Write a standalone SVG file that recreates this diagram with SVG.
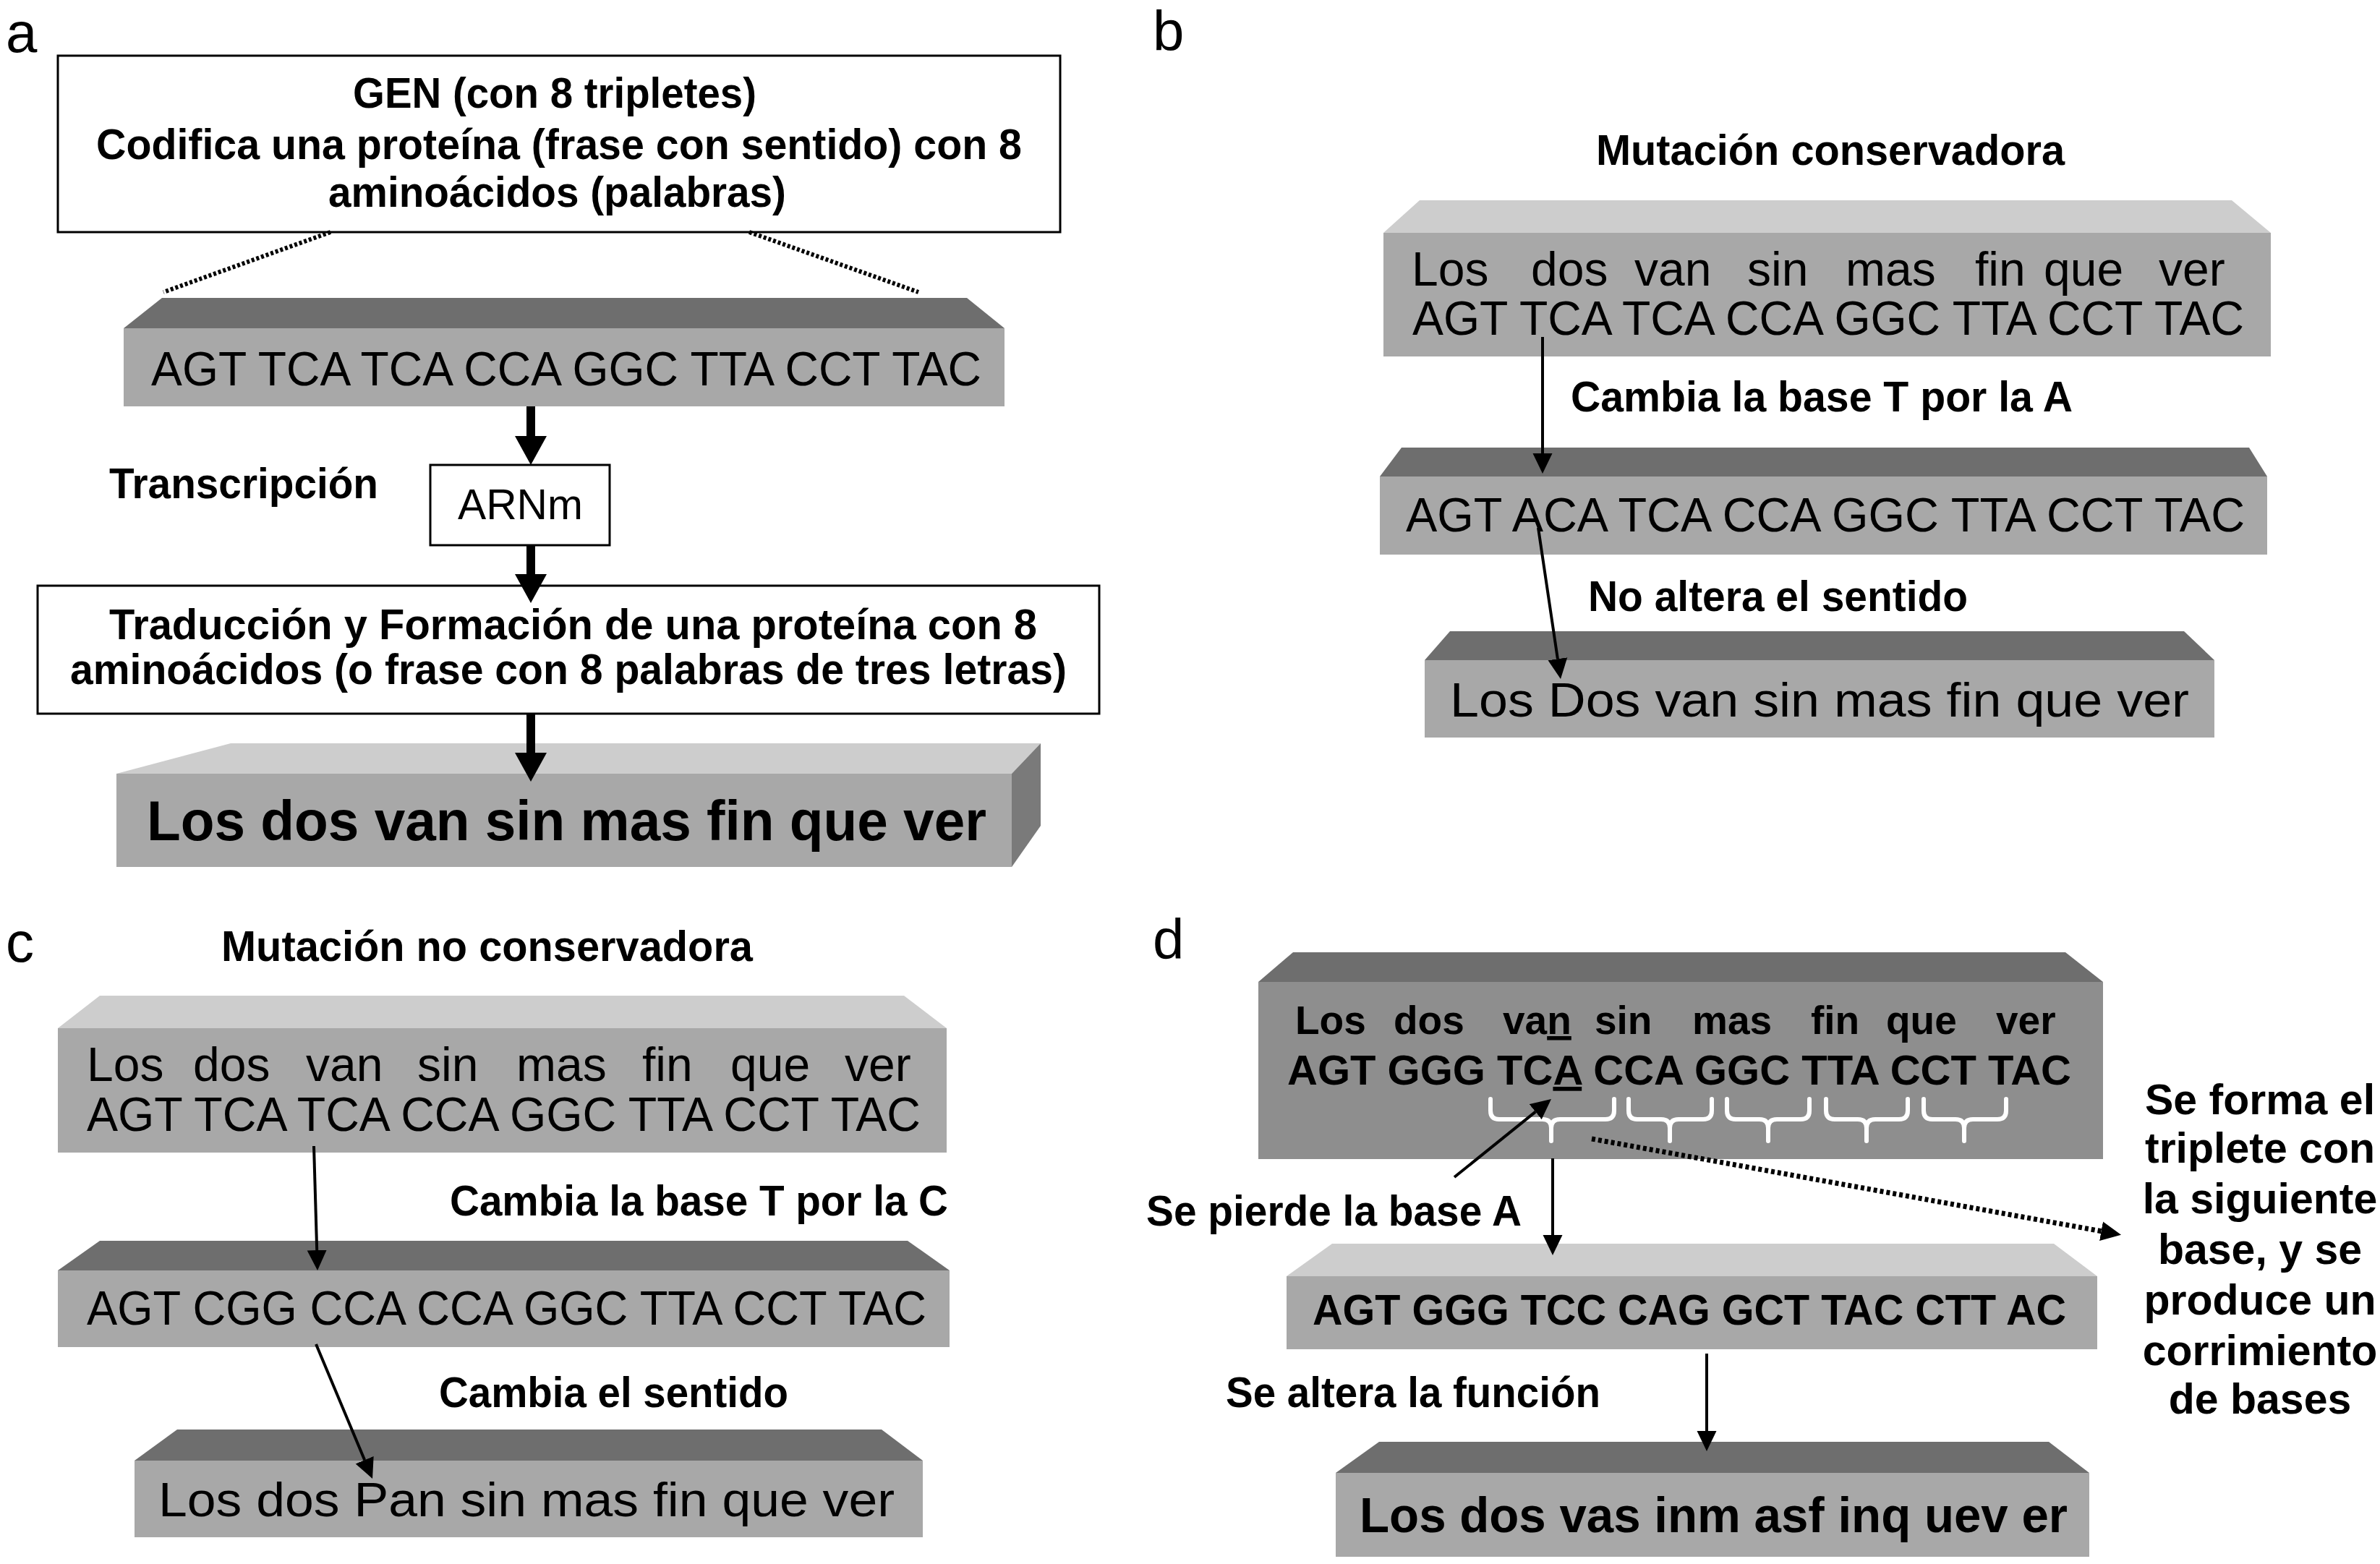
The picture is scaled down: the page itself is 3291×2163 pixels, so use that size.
<svg xmlns="http://www.w3.org/2000/svg" width="3291" height="2163" viewBox="0 0 3291 2163">
<style>
.lbl{font-family:"Liberation Sans",Arial,sans-serif;font-weight:bold;font-size:59px;fill:#000}
.seq{font-family:"Liberation Sans",Arial,sans-serif;font-size:66px;fill:#000}
.seqb{font-family:"Liberation Sans",Arial,sans-serif;font-weight:bold;font-size:57px;fill:#000}
.panel{font-family:"Liberation Sans",Arial,sans-serif;font-size:78px;fill:#000}
.box{fill:#fff;stroke:#000;stroke-width:3}
.topd{fill:#6e6e6e}
.topl{fill:#cdcdcd}
.front{fill:#a8a8a8}
.frontd{fill:#8e8e8e}
.side{fill:#7a7a7a}
.thick{stroke:#000;stroke-width:12;fill:none}
.thin{stroke:#000;stroke-width:4;fill:none}
.dot{stroke:#000;stroke-width:6;stroke-dasharray:4 3;fill:none}
.brace{stroke:#fff;stroke-width:6;fill:none;stroke-linecap:round}
</style>
<defs>
<marker id="ahThick" markerUnits="userSpaceOnUse" markerWidth="42" markerHeight="44" refX="0" refY="22" orient="auto" viewBox="0 0 42 44"><path d="M0,0 L40,22 L0,44 z" fill="#000"/></marker>
<marker id="ahThin" markerUnits="userSpaceOnUse" markerWidth="28" markerHeight="28" refX="0" refY="14" orient="auto" viewBox="0 0 28 28"><path d="M0,0.5 L28,14 L0,27.5 z" fill="#000"/></marker>
</defs>
<rect width="3291" height="2163" fill="#fff"/>

<!-- panel letters -->
<text class="panel" x="8" y="72">a</text>
<text class="panel" x="1594" y="70">b</text>
<text class="panel" x="8" y="1330">c</text>
<text class="panel" x="1594" y="1326">d</text>

<!-- Panel a -->
<g id="gen-box">
<rect class="box" x="80" y="77" width="1386" height="244"/>
<text class="lbl" x="488" y="149" textLength="558" lengthAdjust="spacingAndGlyphs">GEN (con 8 tripletes)</text>
<text class="lbl" x="133" y="220" textLength="1280" lengthAdjust="spacingAndGlyphs">Codifica una proteína (frase con sentido) con 8</text>
<text class="lbl" x="454" y="286" textLength="633" lengthAdjust="spacingAndGlyphs">aminoácidos (palabras)</text>
</g>
<g id="dna-a">
<polygon class="topd" points="224,412 1337,412 1389,454 171,454"/>
<rect class="front" x="171" y="454" width="1218" height="108"/>
<text class="seq" x="209" y="533" textLength="1148" lengthAdjust="spacingAndGlyphs">AGT TCA TCA CCA GGC TTA CCT TAC</text>
</g>
<g id="transcripcion-label">
<text class="lbl" x="151" y="689" textLength="372" lengthAdjust="spacingAndGlyphs">Transcripción</text>
</g>
<g id="arnm">
<rect class="box" x="595" y="643" width="248" height="111"/>
<text class="seq" x="633" y="718" style="font-size:60px" textLength="173" lengthAdjust="spacingAndGlyphs">ARNm</text>
</g>
<g id="traduccion-box">
<rect class="box" x="52" y="810" width="1468" height="177"/>
<text class="lbl" x="151" y="884" textLength="1283" lengthAdjust="spacingAndGlyphs">Traducción y  Formación de una proteína con 8</text>
<text class="lbl" x="97" y="946" textLength="1378" lengthAdjust="spacingAndGlyphs">aminoácidos (o frase con 8 palabras de tres letras)</text>
</g>
<g id="protein-a">
<polygon class="topl" points="319,1028 1439,1028 1399,1070 161,1070"/>
<rect class="front" x="161" y="1070" width="1238" height="129"/>
<polygon class="side" points="1399,1070 1439,1028 1439,1142 1399,1199"/>
<text class="lbl" x="203" y="1162" style="font-size:78px" textLength="1161" lengthAdjust="spacingAndGlyphs">Los dos van sin mas fin que ver</text>
</g>

<!-- Panel b -->
<g id="title-b">
<text class="lbl" x="2207" y="228" textLength="648" lengthAdjust="spacingAndGlyphs">Mutación conservadora</text>
</g>
<g id="dna-b1">
<polygon class="topl" points="1963,277 3086,277 3140,322 1913,322"/>
<rect class="front" x="1913" y="322" width="1227" height="171"/>
<text class="seq" y="395"><tspan x="1952">Los</tspan><tspan x="2117">dos</tspan><tspan x="2260">van</tspan><tspan x="2416">sin</tspan><tspan x="2552">mas</tspan><tspan x="2731">fin</tspan><tspan x="2826">que</tspan><tspan x="2985">ver</tspan></text>
<text class="seq" x="1953" y="463" textLength="1150" lengthAdjust="spacingAndGlyphs">AGT TCA TCA CCA GGC TTA CCT TAC</text>
</g>
<g id="label-b1">
<text class="lbl" x="2172" y="569" textLength="694" lengthAdjust="spacingAndGlyphs">Cambia la base T por la A</text>
</g>
<g id="dna-b2">
<polygon class="topd" points="1938,619 3110,619 3135,659 1908,659"/>
<rect class="front" x="1908" y="659" width="1227" height="108"/>
<text class="seq" x="1944" y="735" textLength="1160" lengthAdjust="spacingAndGlyphs">AGT ACA TCA CCA GGC TTA CCT TAC</text>
</g>
<g id="label-b2">
<text class="lbl" x="2196" y="845" textLength="525" lengthAdjust="spacingAndGlyphs">No altera el sentido</text>
</g>
<g id="protein-b">
<polygon class="topd" points="2005,873 3020,873 3062,913 1970,913"/>
<rect class="front" x="1970" y="913" width="1092" height="107"/>
<text class="seq" x="2005" y="991" textLength="1022" lengthAdjust="spacingAndGlyphs">Los Dos van sin mas fin que ver</text>
</g>

<!-- Panel c -->
<g id="title-c">
<text class="lbl" x="306" y="1329" textLength="735" lengthAdjust="spacingAndGlyphs">Mutación no conservadora</text>
</g>
<g id="dna-c1">
<polygon class="topl" points="138,1377 1250,1377 1309,1422 80,1422"/>
<rect class="front" x="80" y="1422" width="1229" height="172"/>
<text class="seq" y="1495"><tspan x="120">Los</tspan><tspan x="267">dos</tspan><tspan x="423">van</tspan><tspan x="577">sin</tspan><tspan x="714">mas</tspan><tspan x="888">fin</tspan><tspan x="1010">que</tspan><tspan x="1168">ver</tspan></text>
<text class="seq" x="120" y="1564" textLength="1153" lengthAdjust="spacingAndGlyphs">AGT TCA TCA CCA GGC TTA CCT TAC</text>
</g>
<g id="label-c1">
<text class="lbl" x="622" y="1681" textLength="689" lengthAdjust="spacingAndGlyphs">Cambia la base T por la C</text>
</g>
<g id="dna-c2">
<polygon class="topd" points="138,1716 1255,1716 1313,1757 80,1757"/>
<rect class="front" x="80" y="1757" width="1233" height="106"/>
<text class="seq" x="120" y="1832" textLength="1161" lengthAdjust="spacingAndGlyphs">AGT CGG CCA CCA GGC TTA CCT TAC</text>
</g>
<g id="label-c2">
<text class="lbl" x="607" y="1946" textLength="483" lengthAdjust="spacingAndGlyphs">Cambia el sentido</text>
</g>
<g id="protein-c">
<polygon class="topd" points="245,1977 1219,1977 1276,2020 186,2020"/>
<rect class="front" x="186" y="2020" width="1090" height="106"/>
<text class="seq" x="219" y="2097" textLength="1018" lengthAdjust="spacingAndGlyphs">Los dos Pan sin mas fin que ver</text>
</g>

<!-- Panel d -->
<g id="dna-d1">
<polygon class="topd" points="1788,1317 2856,1317 2908,1358 1740,1358"/>
<rect class="frontd" x="1740" y="1358" width="1168" height="245"/>
<text class="seqb" y="1430" style="font-size:55px"><tspan x="1791">Los</tspan><tspan x="1927">dos</tspan><tspan x="2078">va<tspan style="text-decoration:underline">n</tspan></tspan><tspan x="2205">sin</tspan><tspan x="2340">mas</tspan><tspan x="2504">fin</tspan><tspan x="2608">que</tspan><tspan x="2760">ver</tspan></text>
<text class="seqb" x="1780" y="1500" textLength="1084" lengthAdjust="spacingAndGlyphs">AGT GGG TC<tspan style="text-decoration:underline">A</tspan> CCA GGC TTA CCT TAC</text>
<path class="brace" d="M2061,1520 L2061,1536 Q2061,1548 2073,1548 L2133,1548 Q2145,1548 2145,1560 L2145,1578 M2145,1560 Q2145,1548 2157,1548 L2220,1548 Q2232,1548 2232,1536 L2232,1520"/>
<path class="brace" d="M2252,1520 L2252,1536 Q2252,1548 2264,1548 L2297,1548 Q2309,1548 2309,1560 L2309,1578 M2309,1560 Q2309,1548 2321,1548 L2355,1548 Q2367,1548 2367,1536 L2367,1520"/>
<path class="brace" d="M2388,1520 L2388,1536 Q2388,1548 2400,1548 L2433,1548 Q2445,1548 2445,1560 L2445,1578 M2445,1560 Q2445,1548 2457,1548 L2490,1548 Q2502,1548 2502,1536 L2502,1520"/>
<path class="brace" d="M2525,1520 L2525,1536 Q2525,1548 2537,1548 L2569,1548 Q2581,1548 2581,1560 L2581,1578 M2581,1560 Q2581,1548 2593,1548 L2626,1548 Q2638,1548 2638,1536 L2638,1520"/>
<path class="brace" d="M2660,1520 L2660,1536 Q2660,1548 2672,1548 L2704,1548 Q2716,1548 2716,1560 L2716,1578 M2716,1560 Q2716,1548 2728,1548 L2762,1548 Q2774,1548 2774,1536 L2774,1520"/>
</g>
<g id="label-d1">
<text class="lbl" x="1585" y="1695" textLength="519" lengthAdjust="spacingAndGlyphs">Se pierde la base A</text>
</g>
<g id="note-d">
<text class="lbl" text-anchor="middle" x="3125" y="1541">Se forma el</text>
<text class="lbl" text-anchor="middle" x="3125" y="1608">triplete con</text>
<text class="lbl" text-anchor="middle" x="3125" y="1678">la siguiente</text>
<text class="lbl" text-anchor="middle" x="3125" y="1748">base, y se</text>
<text class="lbl" text-anchor="middle" x="3125" y="1818">produce un</text>
<text class="lbl" text-anchor="middle" x="3125" y="1888">corrimiento</text>
<text class="lbl" text-anchor="middle" x="3125" y="1955">de bases</text>
</g>
<g id="dna-d2">
<polygon class="topl" points="1842,1720 2840,1720 2900,1765 1779,1765"/>
<rect class="front" x="1779" y="1765" width="1121" height="101"/>
<text class="seqb" x="1815" y="1832" style="font-size:60px" textLength="1042" lengthAdjust="spacingAndGlyphs">AGT GGG TCC CAG GCT TAC CTT AC</text>
</g>
<g id="label-d2">
<text class="lbl" x="1695" y="1946" textLength="518" lengthAdjust="spacingAndGlyphs">Se altera la función</text>
</g>
<g id="protein-d">
<polygon class="topd" points="1907,1994 2833,1994 2889,2037 1847,2037"/>
<rect class="front" x="1847" y="2037" width="1042" height="116"/>
<text class="lbl" x="1880" y="2119" style="font-size:69px" textLength="979" lengthAdjust="spacingAndGlyphs">Los dos vas inm asf inq uev er</text>
</g>

<!-- connectors -->
<g id="connectors">
<line class="dot" x1="457" y1="321" x2="226" y2="404"/>
<line class="dot" x1="1036" y1="321" x2="1270" y2="404"/>
<line class="thick" x1="734" y1="562" x2="734" y2="603" marker-end="url(#ahThick)"/>
<line class="thick" x1="734" y1="754" x2="734" y2="794" marker-end="url(#ahThick)"/>
<line class="thick" x1="734" y1="986" x2="734" y2="1041" marker-end="url(#ahThick)"/>
<line class="thin" x1="2133" y1="466" x2="2133" y2="627" marker-end="url(#ahThin)"/>
<line class="thin" x1="2127" y1="730" x2="2153.9" y2="911.3" marker-end="url(#ahThin)"/>
<line class="thin" x1="434" y1="1585" x2="438.2" y2="1729" marker-end="url(#ahThin)"/>
<line class="thin" x1="437" y1="1859" x2="504.2" y2="2019.2" marker-end="url(#ahThin)"/>
<line class="thin" x1="2011" y1="1628" x2="2123.2" y2="1537.6" marker-end="url(#ahThin)"/>
<line class="thin" x1="2147" y1="1602" x2="2147" y2="1708" marker-end="url(#ahThin)"/>
<line class="thin" x1="2360" y1="1872" x2="2360" y2="1979" marker-end="url(#ahThin)"/>
<line class="dot" style="stroke-width:7;stroke-dasharray:5 4" x1="2201" y1="1575" x2="2905.5" y2="1702.7" marker-end="url(#ahThin)"/>
</g>
</svg>
